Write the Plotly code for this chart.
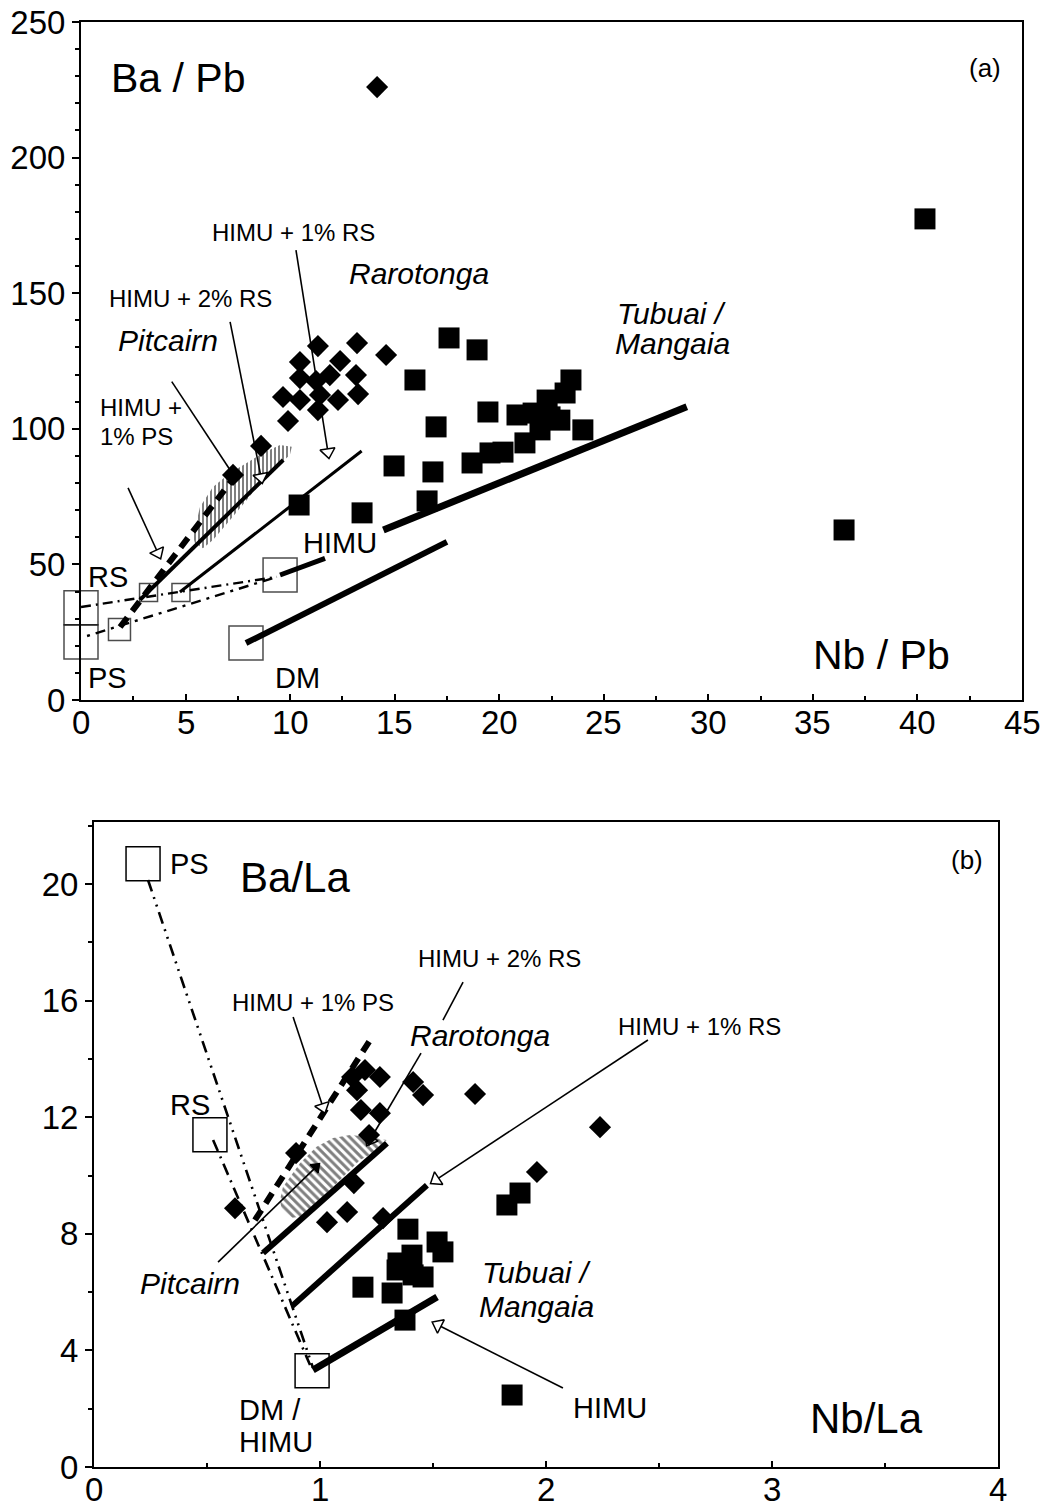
import plotly.graph_objects as go

FONT = "Liberation Sans, Arial, Helvetica, sans-serif"

# ---------------- Panel (a): Ba/Pb vs Nb/Pb ----------------
a_rar_x = [14.16, 11.33, 10.47, 12.39, 13.2, 14.59, 13.15, 10.47, 9.66, 11.24, 12.29,
           13.25, 10.47, 11.33, 9.9, 11.43, 11.9, 8.61, 7.27]
a_rar_y = [226.0, 130.5, 124.6, 125.0, 131.6, 127.2, 119.8, 118.7, 111.7, 117.6, 110.6,
           112.8, 110.6, 106.9, 102.9, 112.5, 119.8, 93.7, 83.0]

a_tub_x = [17.6, 18.94, 15.97, 16.98, 19.46, 14.97, 16.83, 16.55, 10.43, 13.44, 18.7,
           19.56, 20.18, 20.85, 21.23, 21.62, 22.29, 22.43, 22.9, 23.15, 23.43, 24.0,
           21.95, 40.36, 36.49]
a_tub_y = [133.5, 129.1, 118.0, 100.7, 106.2, 86.3, 84.1, 73.4, 71.9, 69.0, 87.4,
           91.1, 91.4, 105.1, 94.8, 105.8, 110.6, 104.4, 103.2, 113.2, 118.0, 99.6,
           99.6, 177.4, 62.7]

# end-member reference boxes (RS, PS, HIMU+1%PS, HIMU+2%RS, HIMU+1%RS, HIMU, DM)
a_box_x = [0.0, 0.0, 1.84, 3.23, 4.78, 9.52, 7.89]
a_box_y = [34.0, 21.4, 26.0, 39.6, 39.6, 46.1, 21.0]

# Pitcairn field outline
a_pit_x = [5.36, 5.69, 6.31, 7.13, 7.92, 8.70, 9.52, 10.08, 9.99, 9.36, 8.56, 7.92,
           7.13, 6.31, 5.83, 5.45, 5.36]
a_pit_y = [60.1, 71.2, 78.5, 83.7, 87.4, 91.1, 94.0, 93.4, 90.3, 86.0, 80.0, 73.7,
           66.4, 59.0, 56.0, 57.9, 60.1]

# mixing lines: (x0, x1), (y0, y1)
a_dm_x, a_dm_y = [7.89, 17.5], [21.0, 58.3]
a_himu1_x, a_himu1_y = [9.52, 11.67], [46.1, 52.2]
a_himu2_x, a_himu2_y = [14.46, 28.97], [62.7, 108.1]
a_ps1_x, a_ps1_y = [1.87, 7.41], [26.9, 83.0]
a_rs2_x, a_rs2_y = [2.82, 9.67], [36.9, 88.5]
a_rs1_x, a_rs1_y = [4.73, 13.42], [39.8, 91.8]
a_rsmix_x, a_rsmix_y = [0.0, 9.37], [34.3, 45.4]
a_psmix_x, a_psmix_y = [0.29, 9.37], [23.6, 45.4]

# label arrows
a_arr_rs1_x, a_arr_rs1_y = [10.28, 11.81], [165.9, 91.4]
a_arr_rs2_x, a_arr_rs2_y = [7.13, 8.61], [139.4, 82.2]
a_arr_pit_x, a_arr_pit_y = [4.34, 7.13], [117.4, 84.8]
a_arr_ps1_x, a_arr_ps1_y = [2.25, 3.68], [78.2, 54.2]

a_xticks = [0, 5, 10, 15, 20, 25, 30, 35, 40, 45]
a_xtick_text = ["0", "5", "10", "15", "20", "25", "30", "35", "40", "45"]

# ---------------- Panel (b): Ba/La vs Nb/La ----------------
b_rar_x = [1.142, 1.199, 1.265, 1.164, 1.181, 1.265, 1.412, 1.456, 1.686, 2.239, 1.96,
           0.624, 1.031, 1.12, 1.15, 1.279, 1.217, 0.894]
b_rar_y = [13.38, 13.62, 13.38, 12.93, 12.25, 12.14, 13.21, 12.76, 12.8, 11.66, 10.12,
           8.88, 8.4, 8.75, 9.74, 8.54, 11.39, 10.77]

b_tub_x = [1.389, 1.518, 1.544, 1.407, 1.345, 1.412, 1.341, 1.456, 1.19, 1.319, 1.827,
           1.885, 1.376, 1.85]
b_tub_y = [8.16, 7.72, 7.38, 7.27, 7.0, 6.59, 6.76, 6.52, 6.17, 5.97, 8.99,
           9.4, 5.04, 2.47]

# end-member boxes (PS, RS, DM/HIMU)
b_box_x = [0.217, 0.513, 0.965]
b_box_y = [20.7, 11.4, 3.3]

b_pit_x = [0.823, 0.836, 0.912, 0.985, 1.058, 1.133, 1.207, 1.295, 1.235, 1.177, 1.088,
           1.0, 0.912, 0.867, 0.831, 0.823]
b_pit_y = [9.16, 9.61, 10.43, 10.99, 11.29, 11.39, 11.33, 11.22, 10.77, 10.53, 9.85,
           9.16, 8.59, 8.54, 8.82, 9.16]

b_psmix_x, b_psmix_y = [0.239, 0.969], [20.14, 3.4]
b_rsmix_x, b_rsmix_y = [0.527, 0.956], [11.22, 3.5]
b_dm_x, b_dm_y = [0.969, 1.518], [3.33, 5.83]
b_rs1_x, b_rs1_y = [0.876, 1.473], [5.52, 9.67]
b_rs2_x, b_rs2_y = [0.748, 1.296], [7.34, 11.11]
b_ps1_x, b_ps1_y = [0.712, 1.23], [8.47, 14.75]

b_arr_rs2a_x, b_arr_rs2a_y = [1.633, 1.544], [16.64, 15.33]
b_arr_rs2b_x, b_arr_rs2b_y = [1.447, 1.221], [14.2, 11.22]
b_arr_ps1_x, b_arr_ps1_y = [0.881, 1.013], [15.44, 12.35]
b_arr_rs1_x, b_arr_rs1_y = [2.451, 1.513], [14.65, 9.85]
b_arr_pit_x, b_arr_pit_y = [0.549, 0.982], [7.03, 10.29]
b_arr_himu_x, b_arr_himu_y = [2.075, 1.522], [2.71, 4.87]

b_xticks = [0, 1, 2, 3, 4]
b_xtick_text = ["0", "1", "2", "3", "4"]

fig = go.Figure()


def line(x, y, xa, ya, width, dash="solid"):
    fig.add_trace(go.Scatter(x=x, y=y, xaxis=xa, yaxis=ya, mode="lines",
                             line=dict(color="black", width=width, dash=dash),
                             cliponaxis=False, hoverinfo="skip"))


def arrow(x, y, xa, ya, filled=False, size=13):
    fig.add_trace(go.Scatter(
        x=x, y=y, xaxis=xa, yaxis=ya, mode="lines+markers",
        line=dict(color="black", width=1.6),
        marker=dict(symbol="triangle-up", size=size, angleref="previous",
                    opacity=[0, 1], color="black" if filled else "white",
                    line=dict(color="black", width=1.5)),
        cliponaxis=False, hoverinfo="skip"))


def field(x, y, xa, ya, shape, size):
    fig.add_trace(go.Scatter(
        x=x, y=y, xaxis=xa, yaxis=ya, mode="lines", fill="toself",
        line=dict(width=0, color="rgba(0,0,0,0)"),
        fillcolor="rgba(0,0,0,0)",
        fillpattern=dict(shape=shape, size=size, solidity=0.5, fgcolor="black",
                         bgcolor="rgba(255,255,255,0)"),
        hoverinfo="skip"))


# ---- panel (a) drawing ----
field(a_pit_x, a_pit_y, "x", "y", "|", 4)
line(a_rsmix_x, a_rsmix_y, "x", "y", 2.4, "10px,5px,2px,5px")
line(a_psmix_x, a_psmix_y, "x", "y", 2.4, "3px,6px,10px,6px")
line(a_dm_x, a_dm_y, "x", "y", 6)
line(a_himu1_x, a_himu1_y, "x", "y", 5)
line(a_himu2_x, a_himu2_y, "x", "y", 7)
line(a_ps1_x, a_ps1_y, "x", "y", 6, "12px,8px")
line(a_rs2_x, a_rs2_y, "x", "y", 4)
line(a_rs1_x, a_rs1_y, "x", "y", 3)
arrow(a_arr_rs1_x, a_arr_rs1_y, "x", "y")
arrow(a_arr_rs2_x, a_arr_rs2_y, "x", "y")
fig.add_trace(go.Scatter(x=a_arr_pit_x, y=a_arr_pit_y, xaxis="x", yaxis="y", mode="lines",
                         line=dict(color="black", width=1.6), hoverinfo="skip"))
arrow(a_arr_ps1_x, a_arr_ps1_y, "x", "y")

fig.add_trace(go.Scatter(x=a_box_x, y=a_box_y, xaxis="x", yaxis="y", mode="markers",
                         marker=dict(symbol="square-open", size=[34, 34, 22, 18, 18, 34, 34],
                                     color="black", line=dict(width=1.5, color="black")),
                         cliponaxis=False, hoverinfo="skip"))
fig.add_trace(go.Scatter(x=a_rar_x, y=a_rar_y, xaxis="x", yaxis="y", mode="markers",
                         marker=dict(symbol="diamond", size=17, color="black"),
                         cliponaxis=False, name="Rarotonga"))
fig.add_trace(go.Scatter(x=a_tub_x, y=a_tub_y, xaxis="x", yaxis="y", mode="markers",
                         marker=dict(symbol="square", size=21, color="black"),
                         cliponaxis=False, name="Tubuai / Mangaia"))

# ---- panel (b) drawing ----
field(b_pit_x, b_pit_y, "x2", "y2", "\\", 6)
line(b_psmix_x, b_psmix_y, "x2", "y2", 2.6, "12px,6px,2px,6px,2px,6px")
line(b_rsmix_x, b_rsmix_y, "x2", "y2", 2.6, "12px,6px,2px,6px")
line(b_dm_x, b_dm_y, "x2", "y2", 7)
line(b_rs1_x, b_rs1_y, "x2", "y2", 6)
line(b_rs2_x, b_rs2_y, "x2", "y2", 6)
line(b_ps1_x, b_ps1_y, "x2", "y2", 6, "12px,8px")
fig.add_trace(go.Scatter(x=b_arr_rs2a_x, y=b_arr_rs2a_y, xaxis="x2", yaxis="y2", mode="lines",
                         line=dict(color="black", width=1.6), hoverinfo="skip"))
arrow(b_arr_rs2b_x, b_arr_rs2b_y, "x2", "y2")
arrow(b_arr_ps1_x, b_arr_ps1_y, "x2", "y2")
arrow(b_arr_rs1_x, b_arr_rs1_y, "x2", "y2")
arrow(b_arr_pit_x, b_arr_pit_y, "x2", "y2", filled=True, size=10)
arrow(b_arr_himu_x, b_arr_himu_y, "x2", "y2")

fig.add_trace(go.Scatter(x=b_box_x, y=b_box_y, xaxis="x2", yaxis="y2", mode="markers",
                         marker=dict(symbol="square-open", size=34, color="black",
                                     line=dict(width=1.5, color="black")),
                         cliponaxis=False, hoverinfo="skip"))
fig.add_trace(go.Scatter(x=b_rar_x, y=b_rar_y, xaxis="x2", yaxis="y2", mode="markers",
                         marker=dict(symbol="diamond", size=17, color="black"),
                         cliponaxis=False, name="Rarotonga"))
fig.add_trace(go.Scatter(x=b_tub_x, y=b_tub_y, xaxis="x2", yaxis="y2", mode="markers",
                         marker=dict(symbol="square", size=21, color="black"),
                         cliponaxis=False, name="Tubuai / Mangaia"))

# ---- text labels ----
a_labels = [
    ("Ba / Pb", 4.64, 229.4, 41, False, "center"),
    ("(a)", 43.23, 233.0, 26, False, "center"),
    ("Rarotonga", 16.16, 157.4, 30, True, "center"),
    ("Tubuai /", 28.26, 142.7, 30, True, "center"),
    ("Mangaia", 28.31, 131.6, 30, True, "center"),
    ("HIMU + 1% RS", 10.14, 172.2, 24, False, "center"),
    ("HIMU + 2% RS", 5.26, 147.9, 24, False, "center"),
    ("Pitcairn", 4.16, 132.7, 30, True, "center"),
    ("HIMU +", 0.81, 107.7, 24, False, "left"),
    ("1% PS", 0.81, 97.0, 24, False, "left"),
    ("RS", 1.29, 45.4, 29, False, "center"),
    ("PS", 1.29, 8.1, 29, False, "center"),
    ("HIMU", 12.39, 57.9, 29, False, "center"),
    ("DM", 10.33, 8.1, 29, False, "center"),
    ("Nb / Pb", 38.3, 16.6, 41, False, "center"),
]
b_labels = [
    ("Ba/La", 0.889, 20.24, 42, False, "center"),
    ("(b)", 3.863, 20.82, 26, False, "center"),
    ("PS", 0.327, 20.69, 29, False, "left"),
    ("RS", 0.425, 12.42, 29, False, "center"),
    ("HIMU + 2% RS", 1.796, 17.46, 24, False, "center"),
    ("HIMU + 1% PS", 0.969, 15.95, 24, False, "center"),
    ("Rarotonga", 1.708, 14.79, 30, True, "center"),
    ("HIMU + 1% RS", 2.681, 15.13, 24, False, "center"),
    ("Pitcairn", 0.425, 6.31, 30, True, "center"),
    ("Tubuai /", 1.956, 6.66, 30, True, "center"),
    ("Mangaia", 1.956, 5.52, 30, True, "center"),
    ("DM /", 0.633, 1.96, 29, False, "left"),
    ("HIMU", 0.633, 0.86, 29, False, "left"),
    ("HIMU", 2.283, 2.02, 29, False, "center"),
    ("Nb/La", 3.416, 1.68, 42, False, "center"),
]

annotations = []
for labels, xr, yr in ((a_labels, "x", "y"), (b_labels, "x2", "y2")):
    for txt, x, y, size, ital, anchor in labels:
        annotations.append(dict(
            text=f"<i>{txt}</i>" if ital else txt, x=x, y=y, xref=xr, yref=yr,
            showarrow=False, xanchor=anchor, yanchor="middle",
            font=dict(family=FONT, size=size, color="black")))

# x tick labels placed just under each x axis (kept tight to the axis as in the original)
for ticks, texts, xr, yr in ((a_xticks, a_xtick_text, "x", "y domain"),
                             (b_xticks, b_xtick_text, "x2", "y2 domain")):
    for v, t in zip(ticks, texts):
        annotations.append(dict(text=t, x=v, y=0, xref=xr, yref=yr, showarrow=False,
                                xanchor="center", yanchor="top", yshift=-2,
                                font=dict(family=FONT, size=33, color="black")))

base = dict(showline=True, linewidth=2, linecolor="black", mirror=True,
            tickwidth=1.5, tickcolor="black",
            showgrid=False, zeroline=False, automargin=False,
            tickfont=dict(family=FONT, size=33, color="black"))
yax = dict(ticks="outside", ticklen=7, **base)
xax = dict(ticks="inside", ticklen=6, showticklabels=False, **base)

H, W = 1511, 1045
fig.update_layout(
    width=W, height=H, margin=dict(l=0, r=0, t=0, b=0),
    paper_bgcolor="white", plot_bgcolor="white", showlegend=False,
    xaxis=dict(domain=[81 / W, 1022 / W], range=[0, 45], anchor="y", dtick=5, tick0=0,
               minor=dict(dtick=2.5, ticks="inside", ticklen=4, tickcolor="black"),
               **xax),
    yaxis=dict(domain=[1 - 700 / H, 1 - 22 / H], range=[0, 250], anchor="x", dtick=50,
               minor=dict(dtick=10, ticks="outside", ticklen=4, tickcolor="black"),
               **yax),
    xaxis2=dict(domain=[94 / W, 998 / W], range=[0, 4], anchor="y2", dtick=1, tick0=0,
                minor=dict(dtick=0.5, ticks="inside", ticklen=4, tickcolor="black"),
                **xax),
    yaxis2=dict(domain=[1 - 1467 / H, 1 - 822 / H], range=[0, 22.13], anchor="x2",
                dtick=4, tick0=0,
                minor=dict(dtick=2, ticks="outside", ticklen=4, tickcolor="black"),
                **yax),
    annotations=annotations,
    font=dict(family=FONT, color="black"),
)

fig.write_html("out.html")
